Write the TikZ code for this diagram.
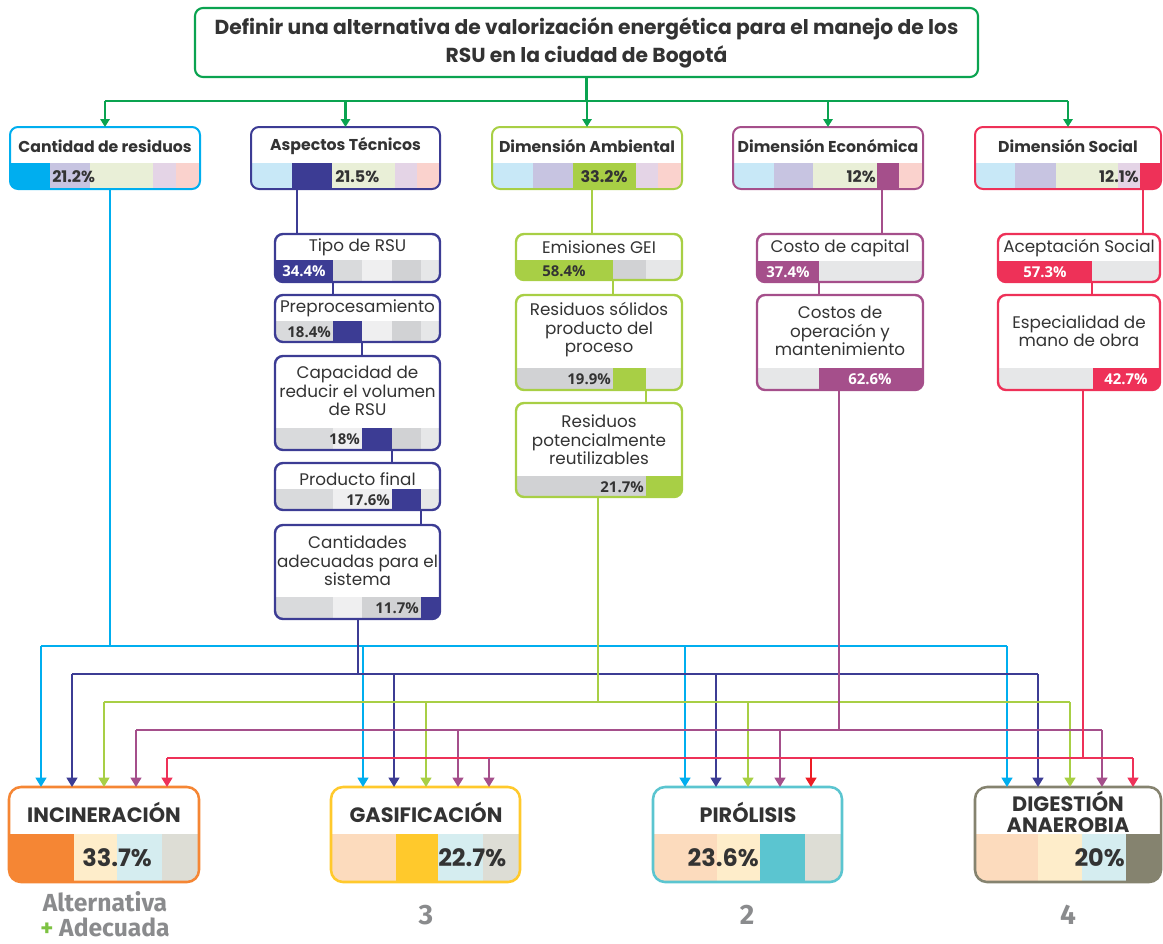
\documentclass[tikz,border=0pt]{standalone}
\usepackage{fontspec}
\setmainfont{Poppins}
\newfontfamily\osans{Open Sans}
\newfontfamily\fira{Fira Sans}
\usetikzlibrary{arrows.meta,calc}

\definecolor{tgreen}{HTML}{0AA350}
\definecolor{ccy}{HTML}{00AEEF}
\definecolor{cbl}{HTML}{3C3C94}
\definecolor{cgr}{HTML}{A8CF45}
\definecolor{cpu}{HTML}{A54F8B}
\definecolor{cre}{HTML}{EE3158}
\definecolor{lcy}{HTML}{C8E8F7}
\definecolor{lav}{HTML}{C7C4E1}
\definecolor{lgr}{HTML}{E9EFD7}
\definecolor{lpu}{HTML}{E4D4E6}
\definecolor{lpk}{HTML}{FAD2CD}
\definecolor{ga}{HTML}{D9DADC}
\definecolor{gb}{HTML}{EFEFF0}
\definecolor{gc}{HTML}{D1D2D4}
\definecolor{gd}{HTML}{E6E7E8}
\definecolor{txt}{HTML}{333333}
\definecolor{orng}{HTML}{F58634}
\definecolor{yel}{HTML}{FFC92C}
\definecolor{teal}{HTML}{5BC5D0}
\definecolor{oliv}{HTML}{85836F}
\definecolor{peach}{HTML}{FCDBBD}
\definecolor{lyel}{HTML}{FEEDCA}
\definecolor{lblu}{HTML}{D5EDF0}
\definecolor{lgry}{HTML}{DDDDD5}
\definecolor{brred}{HTML}{ED1C24}
\definecolor{numg}{HTML}{8A8B8D}
\definecolor{altg}{HTML}{7DC242}

\def\rad{6pt}
% #1 name #2 x1 #3 y1 #4 x2 #5 y2 #6 bar top #7 node options #8 segments a/b/colour
\newcommand\mkbox[8]{%
  \begin{scope}
    \clip[rounded corners=\rad] (#2,#3) rectangle (#4,#5);
    \foreach \sA/\sB/\sC in {#8} {\fill[\sC] (\sA,#6) rectangle (\sB,#5);}
  \end{scope}
  \node[rb, #7, minimum width={(#4-#2)*0.75pt}, minimum height={(#5-#3)*0.75pt}]
    (#1) at ({(#2+#4)/2},{(#3+#5)/2}) {};
}

\begin{document}
\begin{tikzpicture}[x=0.75pt,y=-0.75pt,
  rb/.style={rounded corners=\rad, inner sep=0pt, outer sep=0pt},
  cbox/.style={draw=#1, line width=1.5pt},
  sbox/.style={draw=#1, line width=1.8pt},
  bbox/.style={draw=#1, line width=1.9pt},
  ctitle/.style={font=\bfseries\fontsize{11.8}{14}\selectfont, text=txt, inner sep=0pt},
  cpct/.style={font=\bfseries\fontsize{12}{14}\selectfont, text=txt, inner sep=0pt},
  stext/.style={font=\fontsize{12.6}{13.9}\selectfont, text=txt, align=center, inner sep=0pt},
  spct/.style={font=\osans\bfseries\fontsize{11.2}{13}\selectfont, text=txt, inner sep=0pt},
  wpct/.style={spct, text=white},
  btitle/.style={font=\bfseries\fontsize{15.6}{16}\selectfont, text=txt, align=center, inner sep=0pt},
  bpct/.style={font=\bfseries\fontsize{18}{20}\selectfont, text=txt, inner sep=0pt},
  numlab/.style={font=\fira\bfseries\fontsize{21}{24}\selectfont, text=numg, inner sep=0pt},
  lc/.style={draw=#1, line width=1.6pt},
  garr/.style={-{Triangle[width=7pt,length=6pt]}},
  barr/.style={-{Triangle[width=8pt,length=7pt]}}
]
\useasboundingbox (0,0) rectangle (1163,943);

% ---------- title ----------
\node[rb, draw=tgreen, line width=1.6pt, minimum width={783*0.75pt}, minimum height={69*0.75pt}] (title) at (586.5,42.5) {};
\node[font=\bfseries\fontsize{15.2}{21}\selectfont, text=txt, align=center, inner sep=0pt] (title-t) at (586.5,42.5)
  {Definir una alternativa de valorización energética para el manejo de los\\RSU en la ciudad de Bogotá};

% ---------- criteria ----------
\mkbox{c1}{10}{127}{200}{189}{163}{cbox=ccy}{10/50/ccy,50/90/lav,90/153/lgr,153/176/lpu,176/200/lpk}
\mkbox{c2}{251}{127}{440}{189}{163}{cbox=cbl}{251/292/lcy,292/332/cbl,332/395/lgr,395/417/lpu,417/440/lpk}
\mkbox{c3}{492}{127}{682}{189}{163}{cbox=cgr}{492/533/lcy,533/573/lav,573/636/cgr,636/658/lpu,658/682/lpk}
\mkbox{c4}{733}{127}{923}{189}{163}{cbox=cpu}{733/774/lcy,774/813/lav,813/877/lgr,877/899/cpu,899/923/lpk}
\mkbox{c5}{975}{127}{1161}{189}{163}{cbox=cre}{975/1015/lcy,1015/1056/lav,1056/1118/lgr,1118/1140/lpu,1140/1161/cre}

\node[ctitle] (c1-t) at (105,146) {Cantidad de residuos};
\node[ctitle] (c2-t) at (345.5,146) {Aspectos Técnicos};
\node[ctitle] (c3-t) at (587,146) {Dimensión Ambiental};
\node[ctitle] (c4-t) at (828,146) {Dimensión Económica};
\node[ctitle] (c5-t) at (1068,146) {Dimensión Social};

\node[cpct, anchor=west] (c1-p) at (52,177) {21.2\%};
\node[cpct, anchor=west] (c2-p) at (335,177) {21.5\%};
\node[cpct] (c3-p) at (604,177) {33.2\%};
\node[cpct, anchor=east] (c4-p) at (876,177) {12\%};
\node[cpct, anchor=east] (c5-p) at (1139,177) {12.1\%};

% ---------- technical sub-criteria ----------
\mkbox{t1}{275}{234}{440}{282}{260}{sbox=cbl}{275/333/cbl,333/362/ga,362/392/gb,392/421/gc,421/440/gd}
\mkbox{t2}{275}{295}{440}{342}{321}{sbox=cbl}{275/333/ga,333/362/cbl,362/392/gb,392/421/gc,421/440/gd}
\mkbox{t3}{275}{356}{440}{450}{428}{sbox=cbl}{275/333/ga,333/362/gb,362/392/cbl,392/421/gc,421/440/gd}
\mkbox{t4}{275}{463}{440}{510}{489}{sbox=cbl}{275/333/ga,333/392/gb,392/421/cbl,421/440/gd}
\mkbox{t5}{275}{525}{440}{619}{597}{sbox=cbl}{275/333/ga,333/362/gb,362/421/gc,421/440/cbl}

\node[stext] (t1-t) at (357.5,247) {Tipo de RSU};
\node[stext] (t2-t) at (357.5,308) {Preprocesamiento};
\node[stext] (t3-t) at (357.5,391) {Capacidad de\\reducir el volumen\\de RSU};
\node[stext] (t4-t) at (357.5,479) {Producto final};
\node[stext] (t5-t) at (357.5,561) {Cantidades\\adecuadas para el\\sistema};

\node[wpct] (t1-p) at (304,271) {34.4\%};
\node[spct, anchor=east] (t2-p) at (331,332) {18.4\%};
\node[spct, anchor=east] (t3-p) at (360,439) {18\%};
\node[spct, anchor=east] (t4-p) at (390,500) {17.6\%};
\node[spct, anchor=east] (t5-p) at (419,608) {11.7\%};

% ---------- environmental ----------
\mkbox{a1}{516}{234}{682}{280}{260}{sbox=cgr}{516/613/cgr,613/646/gc,646/682/gd}
\mkbox{a2}{516}{295}{682}{390}{368}{sbox=cgr}{516/613/gc,613/646/cgr,646/682/gd}
\mkbox{a3}{516}{403}{682}{497}{476}{sbox=cgr}{516/646/gc,646/682/cgr}

\node[stext] (a1-t) at (599,247) {Emisiones GEI};
\node[stext] (a2-t) at (599,330) {Residuos sólidos\\producto del\\proceso};
\node[stext] (a3-t) at (599,440) {Residuos\\potencialmente\\reutilizables};

\node[spct] (a1-p) at (564,271) {58.4\%};
\node[spct, anchor=east] (a2-p) at (611,379) {19.9\%};
\node[spct, anchor=east] (a3-p) at (644,487) {21.7\%};

% ---------- economic ----------
\mkbox{e1}{757}{234}{923}{282}{261}{sbox=cpu}{757/819/cpu,819/923/gd}
\mkbox{e2}{757}{295}{923}{390}{368}{sbox=cpu}{757/819/gd,819/923/cpu}
\node[stext] (e1-t) at (840,248) {Costo de capital};
\node[stext] (e2-t) at (840,331) {Costos de\\operación y\\mantenimiento};
\node[wpct] (e1-p) at (788,272) {37.4\%};
\node[wpct] (e2-p) at (870,379) {62.6\%};

% ---------- social ----------
\mkbox{s1}{998}{234}{1160}{282}{261}{sbox=cre}{998/1092/cre,1092/1160/gd}
\mkbox{s2}{998}{295}{1160}{390}{368}{sbox=cre}{998/1093/gd,1093/1160/cre}
\node[stext] (s1-t) at (1079,248) {Aceptación Social};
\node[stext] (s2-t) at (1079,331) {Especialidad de\\mano de obra};
\node[wpct] (s1-p) at (1045,272) {57.3\%};
\node[wpct] (s2-p) at (1126,379) {42.7\%};

% ---------- alternatives ----------
\def\rad{9pt}
\mkbox{inc}{9}{787}{199}{882}{834}{bbox=orng}{9/74/orng,74/117/lyel,117/162/lblu,162/199/lgry}
\mkbox{gas}{331}{787}{520}{882}{834}{bbox=yel}{331/396/peach,396/438/yel,438/483/lblu,483/520/lgry}
\mkbox{pir}{653}{787}{842}{882}{834}{bbox=teal}{653/717/peach,717/760/lyel,760/805/teal,805/842/lgry}
\mkbox{dig}{975}{787}{1161}{882}{834}{bbox=oliv}{975/1038/peach,1038/1082/lyel,1082/1126/lblu,1126/1161/oliv}

\node[btitle] (inc-t) at (104,812) {INCINERACIÓN};
\node[btitle] (gas-t) at (426,812) {GASIFICACIÓN};
\node[btitle] (pir-t) at (748,812) {PIRÓLISIS};
\node[btitle] (dig-t) at (1068,812) {DIGESTIÓN\\ANAEROBIA};

\node[bpct, anchor=west] (inc-p) at (82,858) {33.7\%};
\node[bpct, anchor=west] (gas-p) at (438,858) {22.7\%};
\node[bpct, anchor=east] (pir-p) at (759,858) {23.6\%};
\node[bpct, anchor=east] (dig-p) at (1125,858) {20\%};

\node[font=\fira\bfseries\fontsize{18.5}{19}\selectfont, text=numg, align=center, inner sep=0pt] (best) at (105,914)
  {Alternativa\\{\color{altg}+} Adecuada};
\node[numlab] (n3) at (426,915) {3};
\node[numlab] (n2) at (747,915) {2};
\node[numlab] (n4) at (1068,915) {4};

% ---------- top connectors ----------
\coordinate (tj) at (586.5,101);
\draw[lc=tgreen, line width=1.8pt] (title.south) -- (tj);
\draw[lc=tgreen, line width=1.8pt] (tj -| c1.north) -- (tj -| c5.north);
\foreach \c in {c1,c2,c3,c4,c5}
  \draw[lc=tgreen, line width=1.8pt, garr] (tj -| \c.north) -- (\c.north);

% ---------- chains ----------
\coordinate (k297) at (297,0);  \coordinate (k333) at (333,0);
\coordinate (k362) at (362,0);  \coordinate (k392) at (392,0);
\coordinate (k421) at (421,0);
\draw[lc=cbl] (c2.south -| k297) -- (t1.north -| k297);
\draw[lc=cbl] (t1.south -| k333) -- (t2.north -| k333);
\draw[lc=cbl] (t2.south -| k362) -- (t3.north -| k362);
\draw[lc=cbl] (t3.south -| k392) -- (t4.north -| k392);
\draw[lc=cbl] (t4.south -| k421) -- (t5.north -| k421);

\coordinate (k592) at (592,0); \coordinate (k613) at (613,0); \coordinate (k646) at (646,0);
\draw[lc=cgr] (c3.south -| k592) -- (a1.north -| k592);
\draw[lc=cgr] (a1.south -| k613) -- (a2.north -| k613);
\draw[lc=cgr] (a2.south -| k646) -- (a3.north -| k646);

\coordinate (k882) at (882,0); \coordinate (k819) at (819,0);
\draw[lc=cpu] (c4.south -| k882) -- (e1.north -| k882);
\draw[lc=cpu] (e1.south -| k819) -- (e2.north -| k819);

\coordinate (k1143) at (1143,0); \coordinate (k1092) at (1092,0);
\draw[lc=cre] (c5.south -| k1143) -- (s1.north -| k1143);
\draw[lc=cre] (s1.south -| k1092) -- (s2.north -| k1092);

% ---------- distribution to alternatives ----------
\foreach \b in {inc,gas,pir,dig}{
  \foreach \k/\o in {1/32,2/63,3/95,4/127,5/158}{
    \coordinate (\b-\k) at ($(\b.north west)+(\o,0)$);
  }
}
\coordinate (vc) at (110,646);
\coordinate (vb) at (358,674);
\coordinate (vg) at (598,702);
\coordinate (vp) at (839,730);
\coordinate (vr) at (1083,758);

\draw[lc=ccy] (c1.south -| vc) -- (vc);
\draw[lc=ccy] (inc-1 |- vc) -- (dig-1 |- vc);
\foreach \b in {inc,gas,pir,dig} \draw[lc=ccy, barr] (\b-1 |- vc) -- (\b-1);

\draw[lc=cbl] (t5.south -| vb) -- (vb);
\draw[lc=cbl] (inc-2 |- vb) -- (dig-2 |- vb);
\foreach \b in {inc,gas,pir,dig} \draw[lc=cbl, barr] (\b-2 |- vb) -- (\b-2);

\draw[lc=cgr] (a3.south -| vg) -- (vg);
\draw[lc=cgr] (inc-3 |- vg) -- (dig-3 |- vg);
\foreach \b in {inc,gas,pir,dig} \draw[lc=cgr, barr] (\b-3 |- vg) -- (\b-3);

\draw[lc=cpu] (e2.south -| vp) -- (vp);
\draw[lc=cpu] (inc-4 |- vp) -- (dig-4 |- vp);
\foreach \b in {inc,gas,pir,dig} \draw[lc=cpu, barr] (\b-4 |- vp) -- (\b-4);

\draw[lc=cre] (s2.south -| vr) -- (vr);
\draw[lc=cre] (inc-5 |- vr) -- (dig-5 |- vr);
\draw[lc=cre, barr] (inc-5 |- vr) -- (inc-5);
\draw[lc=cpu, barr] (gas-5 |- vr) -- (gas-5);
\draw[lc=brred, barr] (pir-5 |- vr) -- (pir-5);
\draw[lc=cre, barr] (dig-5 |- vr) -- (dig-5);

\end{tikzpicture}
\end{document}
